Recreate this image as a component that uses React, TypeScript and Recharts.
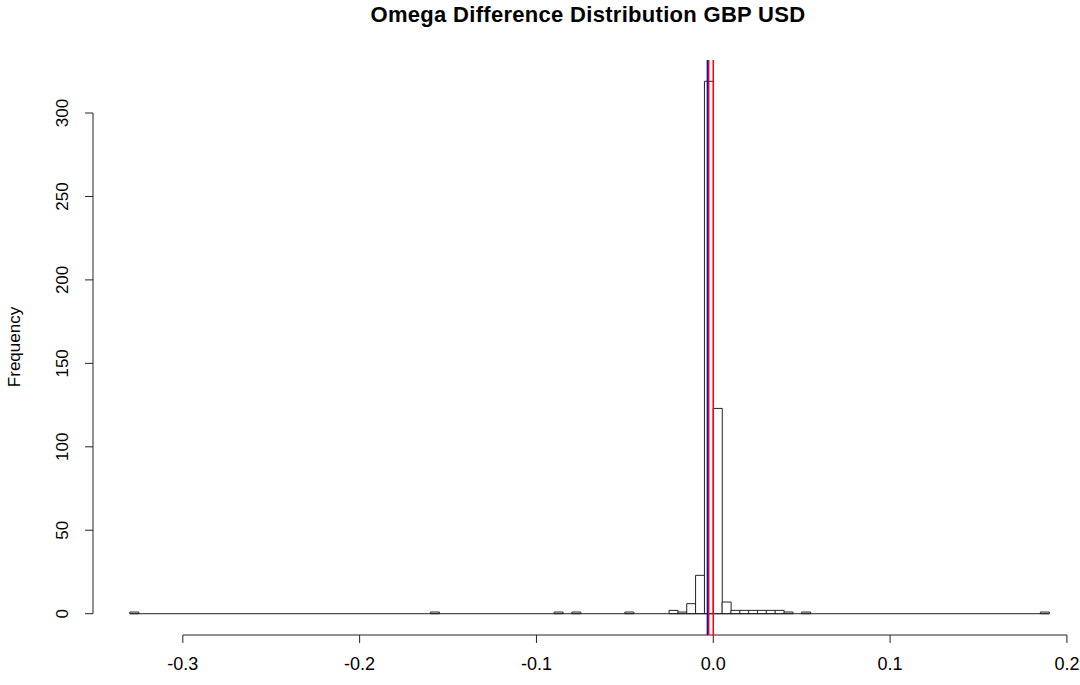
import React from "react";
import {
  ComposedChart,
  Bar,
  XAxis,
  YAxis,
  ReferenceLine,
} from "recharts";

// histogram bins (left edge of each non-empty bin) and their counts
const binStarts = [
  -0.33, -0.16, -0.09, -0.08, -0.05, -0.025, -0.02, -0.015, -0.01, -0.005,
  0, 0.005, 0.01, 0.015, 0.02, 0.025, 0.03, 0.035, 0.04, 0.05, 0.185,
];
const binCounts = [
  1, 1, 1, 1, 1, 2, 1, 6, 23, 319, 123, 7, 2, 2, 2, 2, 2, 2, 1, 1, 1,
];
const binWidth = 0.005;

const xTicks = [-0.3, -0.2, -0.1, 0, 0.1, 0.2];
const yTicks = [0, 50, 100, 150, 200, 250, 300];

// vertical markers: mean (blue), median (red), zero (red)
const markerX = [-0.0033, -0.0026, 0];
const markerColors = ["#0000ff", "#ff0000", "#ff0000"];

const histData = binStarts.map((s, i) => ({
  x: Number((s + binWidth / 2).toFixed(4)),
  count: binCounts[i],
}));

// R style 4% padding around the data range
const xLo = binStarts[0];
const xHi = binStarts[binStarts.length - 1] + binWidth;
const xPad = (xHi - xLo) * 0.04;
const xDomain = [xLo - xPad, xHi + xPad];
const yMax = Math.max(...binCounts);
const yDomain = [-yMax * 0.04, yMax * 1.04];

const FONT = "'Liberation Sans', Arial, sans-serif";

const YTick = (props: any) => {
  const { x, y, payload } = props;
  return (
    <text
      x={x}
      y={y}
      transform={`rotate(-90, ${x}, ${y})`}
      textAnchor="middle"
      fontSize={17}
      fontFamily={FONT}
      fill="#000"
    >
      {payload.value}
    </text>
  );
};

export default function App() {
  return (
    <div
      style={{
        position: "fixed",
        left: 0,
        top: 0,
        width: 1080,
        height: 685,
        overflow: "hidden",
        background: "#fff",
      }}
    >
      <div
        style={{
          position: "absolute",
          left: 288,
          width: 600,
          top: 2,
          textAlign: "center",
          fontFamily: FONT,
          fontWeight: 700,
          fontSize: 22,
          letterSpacing: 0.3,
          whiteSpace: "nowrap",
          color: "#000",
        }}
      >
        Omega Difference Distribution GBP USD
      </div>
      <div
        style={{
          position: "absolute",
          left: 15,
          top: 347,
          transform: "translate(-50%, -50%) rotate(-90deg)",
          fontFamily: FONT,
          fontSize: 17,
          color: "#000",
          whiteSpace: "nowrap",
        }}
      >
        Frequency
      </div>
      <ComposedChart
        width={1100}
        height={685}
        data={histData}
        margin={{ top: 60, right: 14, bottom: 10, left: 33 }}
        barCategoryGap={0}
        barGap={0}
        style={{ position: "absolute", left: 0, top: 0 }}
      >
        <XAxis
          dataKey="x"
          type="number"
          domain={xDomain}
          allowDataOverflow
          ticks={xTicks}
          tickFormatter={(v: number) => v.toFixed(1)}
          axisLine={false}
          tickSize={8}
          tickMargin={14}
          height={40}
          tickLine={{ stroke: "#222" }}
          tick={{ fontSize: 18, fontFamily: FONT, fill: "#000" }}
          interval={0}
        />
        <YAxis
          type="number"
          domain={yDomain}
          allowDataOverflow
          ticks={yTicks}
          axisLine={false}
          tickSize={8}
          tickMargin={17}
          width={60}
          tickLine={{ stroke: "#222" }}
          tick={<YTick />}
          interval={0}
        />
        <Bar
          dataKey="count"
          fill="#ffffff"
          stroke="#222"
          strokeWidth={1}
          isAnimationActive={false}
        />
        <ReferenceLine
          segment={[
            { x: xLo, y: 0 },
            { x: xHi, y: 0 },
          ]}
          stroke="#222"
          ifOverflow="visible"
        />
        <ReferenceLine
          segment={[
            { x: xTicks[0], y: yDomain[0] },
            { x: xTicks[xTicks.length - 1], y: yDomain[0] },
          ]}
          stroke="#222"
          ifOverflow="visible"
        />
        <ReferenceLine
          segment={[
            { x: xDomain[0], y: yTicks[0] },
            { x: xDomain[0], y: yTicks[yTicks.length - 1] },
          ]}
          stroke="#222"
          ifOverflow="visible"
        />
        {markerX.map((mx, i) => (
          <ReferenceLine
            key={i}
            x={mx}
            stroke={markerColors[i]}
            strokeWidth={1.5}
            ifOverflow="visible"
          />
        ))}
      </ComposedChart>
    </div>
  );
}
